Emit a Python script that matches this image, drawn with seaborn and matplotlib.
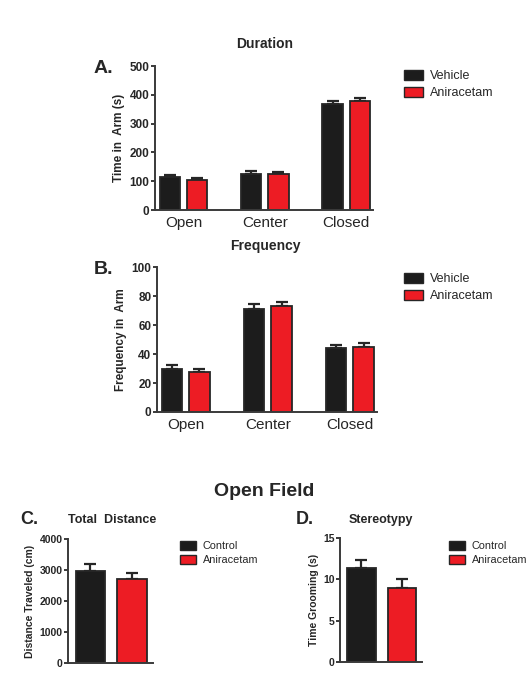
import numpy as np
import pandas as pd
import matplotlib
matplotlib.use('Agg')
import matplotlib.pyplot as plt
import matplotlib.patches as mpatches
import seaborn as sns

# --- data ---
arms = ['Open', 'Center', 'Closed']
dur_vehicle = [113, 125, 368]
dur_vehicle_sem = [9, 10, 12]
dur_anir = [105, 126, 377]
dur_anir_sem = [5, 5, 13]

freq_vehicle = [30, 71, 44]
freq_vehicle_sem = [2.5, 3.5, 2.5]
freq_anir = [27.5, 73, 44.5]
freq_anir_sem = [2, 3, 3]

of_groups = ['Control', 'Aniracetam']
distance = [2980, 2720]
distance_sem = [200, 170]
grooming = [11.4, 8.95]
grooming_sem = [1.0, 1.15]

BLACK = '#1c1c1c'
RED = '#ed1c24'
EDGE = '#262626'
AXC = '#3a3a3a'

sns.set_style('ticks')
plt.rcParams['font.family'] = ['Liberation Sans', 'DejaVu Sans']

fig = plt.figure(figsize=(5.28, 6.97), dpi=100)


def style(ax, ylabel, ytick_size, ylabel_size):
    sns.despine(ax=ax)
    for s in ['left', 'bottom']:
        ax.spines[s].set_linewidth(1.4)
        ax.spines[s].set_color(AXC)
    ax.set_xlabel('')
    ax.set_ylabel(ylabel, fontsize=ylabel_size, fontweight='bold', labelpad=3)
    ax.tick_params(axis='y', labelsize=ytick_size, width=1.4, length=3, color=AXC, pad=1)
    for t in ax.get_yticklabels():
        t.set_fontweight('bold')
    ax.tick_params(axis='x', length=0)


def add_errors(ax, sems):
    xs = [p.get_x() + p.get_width() / 2 for p in ax.patches if p.get_height() > 0]
    hs = [p.get_height() for p in ax.patches if p.get_height() > 0]
    ax.errorbar(xs, hs, yerr=[np.zeros(len(sems)), sems], fmt='none',
                ecolor=EDGE, elinewidth=1.6, capsize=4, capthick=1.6, zorder=1)


def legend(names, x, top, size):
    handles = [mpatches.Patch(facecolor=BLACK, edgecolor=EDGE, label=names[0]),
               mpatches.Patch(facecolor=RED, edgecolor=EDGE, label=names[1])]
    fig.legend(handles=handles, loc='upper left', bbox_to_anchor=(x / 528, 1 - top / 697),
               frameon=False, fontsize=size, handlelength=1.5, handleheight=0.85,
               labelspacing=0.35, handletextpad=0.6, borderpad=0, borderaxespad=0)


def grouped(rect, v1, v1s, v2, v2s, names, ylabel, ymax, yticks, title, letter, ty, leg_top):
    ax = fig.add_axes(rect)
    df = pd.DataFrame({'arm': arms * 2, 'value': v1 + v2,
                       'group': [names[0]] * 3 + [names[1]] * 3})
    sns.barplot(data=df, x='arm', y='value', hue='group', order=arms,
                palette=[BLACK, RED], saturation=1, errorbar=None, width=0.67, gap=0.26,
                edgecolor=EDGE, linewidth=1.3, ax=ax, zorder=2)
    add_errors(ax, v1s + v2s)
    ax.set_ylim(0, ymax)
    ax.set_yticks(yticks)
    ax.set_xlim(-0.35, 2.33)
    style(ax, ylabel, 8.5, 8.5)
    ax.tick_params(axis='x', labelsize=11, pad=4)
    ax.get_legend().remove()
    legend(names, 404, leg_top, 9)
    fig.text(0.502, ty, title, ha='center', va='center', fontsize=10, fontweight='bold')
    fig.text(0.178, rect[1] + rect[3] - 0.004, letter, ha='left', va='center',
             fontsize=14, fontweight='bold')
    return ax


grouped([0.2936, 0.6987, 0.4129, 0.2066], dur_vehicle, dur_vehicle_sem, dur_anir, dur_anir_sem,
        ['Vehicle', 'Aniracetam'], 'Time in  Arm (s)', 500, [0, 100, 200, 300, 400, 500],
        'Duration', 'A.', 1 - 44 / 697, 70)

grouped([0.2973, 0.4089, 0.4167, 0.2080], freq_vehicle, freq_vehicle_sem, freq_anir, freq_anir_sem,
        ['Vehicle', 'Aniracetam'], 'Frequency in  Arm', 100, [0, 20, 40, 60, 80, 100],
        'Frequency', 'B.', 1 - 246 / 697, 273)

fig.text(0.5, 1 - 491 / 697, 'Open Field', ha='center', va='center', fontsize=14, fontweight='bold')


def single(rect, vals, sems, ylabel, ymax, yticks, title, title_x, letter, letter_x, leg_x):
    ax = fig.add_axes(rect)
    df = pd.DataFrame({'group': of_groups, 'value': vals})
    sns.barplot(data=df, x='group', y='value', hue='group', order=of_groups,
                palette=[BLACK, RED], saturation=1, errorbar=None, width=0.7, legend=False,
                edgecolor=EDGE, linewidth=1.3, ax=ax, zorder=2)
    add_errors(ax, sems)
    ax.set_ylim(0, ymax)
    ax.set_yticks(yticks)
    ax.set_xlim(-0.53, 1.5)
    style(ax, ylabel, 7.5, 7.5)
    ax.set_xticklabels([])
    legend(of_groups, leg_x, 541, 7.8)
    fig.text(title_x, 1 - 520 / 697, title, ha='center', va='center', fontsize=9, fontweight='bold')
    fig.text(letter_x, 1 - 519 / 697, letter, ha='left', va='center', fontsize=13, fontweight='bold')
    return ax


single([0.1288, 0.0488, 0.1610, 0.1779], distance, distance_sem, 'Distance Traveled (cm)',
       4000, [0, 1000, 2000, 3000, 4000], 'Total  Distance', 112 / 528, 'C.', 20 / 528, 180)

single([0.6439, 0.0502, 0.1553, 0.1779], grooming, grooming_sem, 'Time Grooming (s)',
       15, [0, 5, 10, 15], 'Stereotypy', 381 / 528, 'D.', 296 / 528, 449)

plt.savefig('out.png', dpi=100)
